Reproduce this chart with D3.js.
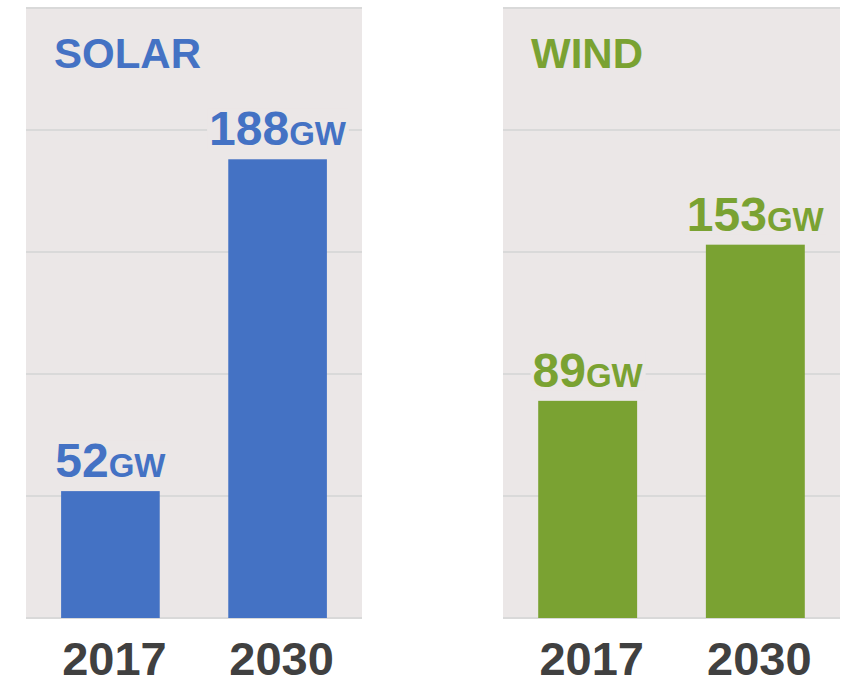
<!DOCTYPE html>
<html>
<head>
<meta charset="utf-8">
<script src="https://cdn.jsdelivr.net/npm/d3@7"></script>
<style>
  body { margin: 0; background: #fff; }
  text { font-family: "Liberation Sans", Arial, sans-serif; font-weight: bold; }
</style>
</head>
<body>
<svg width="846" height="681"></svg>
<script>
// data
var years = ["2017", "2030"];
var solarValues = [52, 188];
var windValues = [89, 153];
var gridTicks = [50, 100, 150, 200, 250];
var panelNames = ["SOLAR", "WIND"];
var panelColors = ["#4472c4", "#7aa232"];

var svg = d3.select("svg");
var bg = "#ebe7e7";

var y = d3.scaleLinear().domain([0, 250]).range([618, 8]);

var panels = [
  { name: panelNames[0], color: panelColors[0], values: solarValues, x0: 26, x1: 362 },
  { name: panelNames[1], color: panelColors[1], values: windValues, x0: 503, x1: 840 }
];

panels.forEach(function(p) {
  var x = d3.scaleBand().domain(years).range([p.x0, p.x1])
      .paddingInner(0.41).paddingOuter(0.21);

  var g = svg.append("g");

  g.append("rect")
      .attr("x", p.x0).attr("y", y(250))
      .attr("width", p.x1 - p.x0).attr("height", y(0) - y(250))
      .attr("fill", bg);

  g.selectAll("line.grid")
    .data(gridTicks)
    .enter().append("line")
      .attr("class", "grid")
      .attr("x1", p.x0).attr("x2", p.x1)
      .attr("y1", function(d) { return y(d); })
      .attr("y2", function(d) { return y(d); })
      .attr("stroke", "#d9d9d9")
      .attr("stroke-width", 2);

  g.append("line")
      .attr("x1", p.x0).attr("x2", p.x1)
      .attr("y1", y(0)).attr("y2", y(0))
      .attr("stroke", "#d9d9d9")
      .attr("stroke-width", 2);

  g.append("text")
      .attr("x", p.x0 + 28)
      .attr("y", 68)
      .attr("font-size", 42)
      .attr("fill", p.color)
      .text(p.name);

  g.selectAll("rect.bar")
    .data(p.values)
    .enter().append("rect")
      .attr("class", "bar")
      .attr("x", function(d, i) { return x(years[i]); })
      .attr("y", function(d) { return y(d); })
      .attr("width", x.bandwidth())
      .attr("height", function(d) { return y(0) - y(d); })
      .attr("fill", p.color);

  // value labels, with a background box that cuts the gridline
  p.values.forEach(function(v, i) {
    var lg = g.append("g");
    var box = lg.append("rect").attr("fill", bg);
    var t = lg.append("text")
        .attr("x", x(years[i]) + x.bandwidth() / 2)
        .attr("y", y(v) - 14)
        .attr("text-anchor", "middle")
        .attr("fill", p.color);
    t.append("tspan").attr("font-size", 48).text(v);
    t.append("tspan").attr("font-size", 33).text("GW");
    var bb = t.node().getBBox();
    box.attr("x", bb.x - 2).attr("y", bb.y + 6)
       .attr("width", bb.width + 4).attr("height", bb.height - 12);
  });

  g.selectAll("text.year")
    .data(years)
    .enter().append("text")
      .attr("class", "year")
      .attr("x", function(d) { return x(d) + x.bandwidth() / 2 + 4; })
      .attr("y", 675)
      .attr("text-anchor", "middle")
      .attr("font-size", 47)
      .attr("fill", "#404040")
      .text(function(d) { return d; });
});
</script>
</body>
</html>
